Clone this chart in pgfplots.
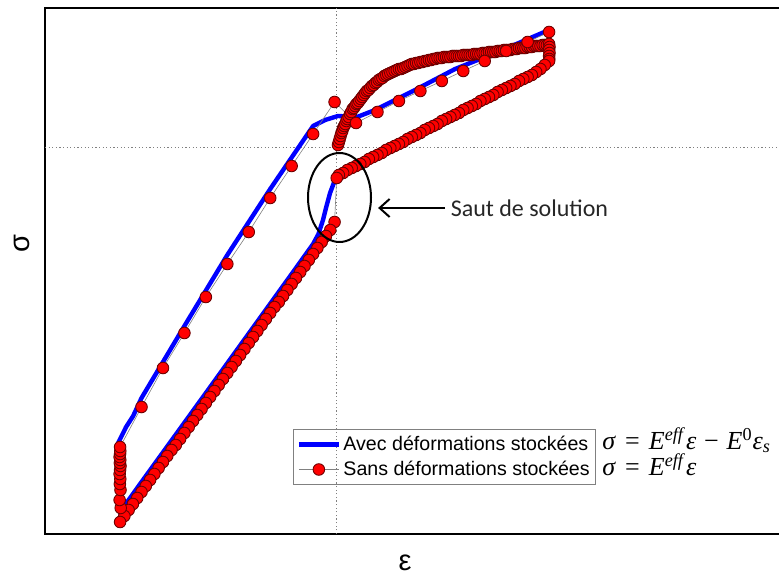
\documentclass[border=0pt]{standalone}
\usepackage{pgfplots}
\pgfplotsset{compat=1.18}
\usepackage{pgfplotstable}
\usepackage{fontspec}
\setmainfont{Liberation Sans}
\newfontfamily\calibri{Carlito}
\newfontfamily\tnr{Liberation Serif}
\usetikzlibrary{arrows.meta}
\definecolor{markedge}{RGB}{110,0,0}

\pgfplotsset{
  bluelegend/.style={legend image code/.code={\draw[##1] (0pt,0pt) -- (20pt,0pt);}},
  redlegend/.style={legend image code/.code={\draw[##1, mark repeat=2, mark phase=2] plot coordinates {(0pt,0pt) (10pt,0pt) (20pt,0pt)};}},
}

% Avec deformations stockees (blue)
\pgfplotstableread{
x y
20.0 47.6
19.5 46.4
17.0 43.5
14.0 40.1
12.0 37.9
10.5 36.3
10.2 35.8
10.0 35.3
9.79 34.1
9.6 32.6
9.46 31.4
9.25 30.0
9.0 29.0
8.0 26.0
4.0 14.1
1.0 5.2
0.3 3.1
0.12 2.2
0.03 1.6
-0.02 5.0
-0.06 8.0
-0.09 9.1
0.28 10.7
0.61 11.8
1.0 13.6
3.0 20.8
5.0 27.9
7.0 34.5
9.0 40.8
9.56 41.4
10.16 41.8
11.05 41.7
11.89 42.4
13.75 44.4
15.62 46.5
17.72 48.3
20.0 50.4
}\avec

% Sans deformations stockees (red markers)
\pgfplotstableread{
x y
10.16 38.9
10.20 39.2
10.24 39.5
10.28 39.8
10.32 40.1
10.36 40.3
10.40 40.6
10.45 40.8
10.50 41.0
10.55 41.3
10.60 41.5
10.66 41.7
10.72 42.0
10.78 42.2
10.84 42.5
10.90 42.6
10.96 42.8
11.02 43.0
11.08 43.1
11.15 43.3
11.22 43.5
11.29 43.7
11.36 43.9
11.43 44.1
11.50 44.3
11.58 44.4
11.66 44.6
11.74 44.8
11.82 44.9
11.90 45.1
11.98 45.2
12.06 45.4
12.14 45.5
12.23 45.6
12.32 45.8
12.41 45.9
12.50 46.0
12.60 46.1
12.70 46.2
12.80 46.3
12.90 46.4
13.00 46.5
13.10 46.5
13.20 46.6
13.30 46.7
13.40 46.8
13.50 46.9
13.60 47.0
13.70 47.0
13.80 47.1
13.90 47.1
14.00 47.2
14.10 47.2
14.20 47.3
14.30 47.3
14.40 47.4
14.50 47.4
14.60 47.5
14.70 47.5
14.80 47.6
14.90 47.6
15.00 47.6
15.10 47.7
15.20 47.7
15.30 47.7
15.40 47.7
15.50 47.8
15.60 47.8
15.70 47.8
15.80 47.8
15.90 47.8
16.00 47.9
16.10 47.9
16.20 47.9
16.30 47.9
16.40 47.9
16.50 48.0
16.60 48.0
16.70 48.0
16.80 48.0
16.90 48.1
17.00 48.1
17.10 48.1
17.20 48.2
17.30 48.2
17.40 48.2
17.50 48.2
17.60 48.3
17.70 48.3
17.80 48.3
17.90 48.4
18.00 48.4
18.10 48.4
18.20 48.4
18.30 48.5
18.40 48.5
18.50 48.5
18.60 48.6
18.70 48.6
18.80 48.6
18.90 48.6
19.00 48.7
19.10 48.7
19.20 48.7
19.30 48.8
19.40 48.8
19.50 48.8
19.60 48.8
19.70 48.9
19.80 48.9
19.90 48.9
20.00 49.0
20.02 48.7
20.00 48.4
20.02 48.1
20.00 47.8
20.01 47.5
20.0 47.3
19.8 46.9
19.6 46.5
19.4 46.2
19.2 45.9
19.0 45.7
18.8 45.5
18.6 45.3
18.4 45.0
18.2 44.8
18.0 44.6
17.8 44.4
17.6 44.2
17.4 43.9
17.2 43.7
17.0 43.5
16.8 43.3
16.6 43.0
16.4 42.8
16.2 42.6
16.0 42.4
15.8 42.1
15.6 41.9
15.4 41.7
15.2 41.5
15.0 41.3
14.8 41.0
14.6 40.8
14.4 40.6
14.2 40.4
14.0 40.1
13.8 39.9
13.6 39.7
13.4 39.5
13.2 39.2
13.0 39.0
12.8 38.8
12.6 38.6
12.4 38.4
12.2 38.1
12.0 37.9
11.8 37.7
11.6 37.5
11.4 37.2
11.2 37.0
11.0 36.8
10.8 36.6
10.6 36.4
10.4 36.1
10.2 35.9
10.1 35.6
10.0 31.2
9.8 30.4
9.6 29.8
9.4 29.2
9.2 28.6
9.0 28.0
8.8 27.4
8.6 26.8
8.4 26.2
8.2 25.6
8.0 25.0
7.8 24.4
7.6 23.8
7.4 23.2
7.2 22.7
7.0 22.1
6.8 21.5
6.6 20.9
6.4 20.3
6.2 19.7
6.0 19.1
5.8 18.5
5.6 17.9
5.4 17.3
5.2 16.7
5.0 16.1
4.8 15.5
4.6 14.9
4.4 14.3
4.2 13.7
4.0 13.1
3.8 12.5
3.6 11.9
3.4 11.3
3.2 10.7
3.0 10.1
2.8 9.5
2.6 8.9
2.4 8.4
2.2 7.8
2.0 7.2
1.8 6.6
1.6 6.0
1.4 5.4
1.2 4.8
1.0 4.2
0.8 3.6
0.6 3.0
0.4 2.4
0.2 1.8
0.0 1.2
0.03 2.6
-0.02 3.4
0.02 4.4
-0.01 5.0
0.01 5.5
-0.02 6.0
0.00 6.4
0.02 6.8
-0.01 7.1
0.01 7.4
-0.02 7.7
0.00 8.0
0.01 8.3
0 8.7
1 12.7
2 16.6
3 20.1
4 23.7
5 27.0
6 30.2
7 33.6
8 36.8
9 40.0
10 43.2
11 41.1
12 42.2
13 43.3
14 44.3
15 45.3
16 46.3
17 47.3
18 48.3
19 49.2
20 50.2
}\sans

\begin{document}
\begin{tikzpicture}
\useasboundingbox (0,0) rectangle (389.5pt,288.5pt);
\clip (0,0) rectangle (389.5pt,288.5pt);
\begin{axis}[
  at={(22.5pt,21.5pt)}, anchor=south west,
  scale only axis, width=377.5pt, height=263pt,
  xmin=-3.5, xmax=31.7, ymin=0, ymax=52.6,
  xtick=\empty, ytick=\empty,
  axis line style={line width=1pt},
  extra x ticks={10.07}, extra y ticks={38.7},
  extra tick style={grid=major,
    major grid style={gray, line width=0.4pt, dash pattern=on 0.6pt off 1.2pt},
    major tick length=0pt, xticklabel={}, yticklabel={}},
  xlabel={ε}, ylabel={σ},
  label style={font=\fontsize{14.5}{17}\selectfont},
  xlabel style={at={(axis description cs:0.477,0)}, anchor=center, yshift=-14.5pt},
  ylabel style={at={(axis description cs:-0.0305,0.553)}, anchor=center},
  legend style={at={(axis cs:8.07,10.5)}, anchor=north west, draw=gray, fill=none,
    line width=0.5pt, font=\fontsize{9.8}{12}\selectfont,
    inner xsep=1.5pt, inner ysep=1.25pt, row sep=0pt, cells={anchor=west},
    nodes={inner xsep=1.2pt, inner ysep=1.5pt, text height=7.5pt, text depth=2pt}},
  clip mode=individual,
]
\addplot[blue, line width=2.2pt, line join=round, bluelegend]
  table[x=x,y=y] {\avec};
\addlegendentry{Avec déformations stockées}
\addplot[gray, line width=0.3pt, mark=*, mark size=2.9pt,
  mark options={fill=red, draw=markedge, line width=0.45pt, solid}, redlegend]
  table[x=x,y=y] {\sans};
\addlegendentry{Sans déformations stockées}

\draw[line width=1pt] (axis cs:10.23,33.65) ellipse [x radius=15.75pt, y radius=22.25pt];
\draw[line width=1pt, -{Straight Barb[length=5pt,width=9pt]}] (axis cs:15.15,32.6) -- (axis cs:12.03,32.6);
\node[anchor=west, inner sep=0pt, text=black!85, font=\calibri\fontsize{12}{14}\selectfont] at (axis cs:15.4,32.6) {Saut de solution};

\node[anchor=base west, inner sep=0pt, font=\tnr\fontsize{13}{15}\selectfont] at (axis cs:22.47,8.5)
  {\textit{σ}\hspace{0.35em}=\hspace{0.35em}\textit{E}\textsuperscript{\textit{eff}}\textit{ε}\hspace{0.3em}−\hspace{0.3em}\textit{E}\textsuperscript{0}\textit{ε}\textsubscript{\textit{s}}};
\node[anchor=base west, inner sep=0pt, font=\tnr\fontsize{13}{15}\selectfont] at (axis cs:22.47,5.9)
  {\textit{σ}\hspace{0.35em}=\hspace{0.35em}\textit{E}\textsuperscript{\textit{eff}}\textit{ε}};
\end{axis}
\end{tikzpicture}
\end{document}
